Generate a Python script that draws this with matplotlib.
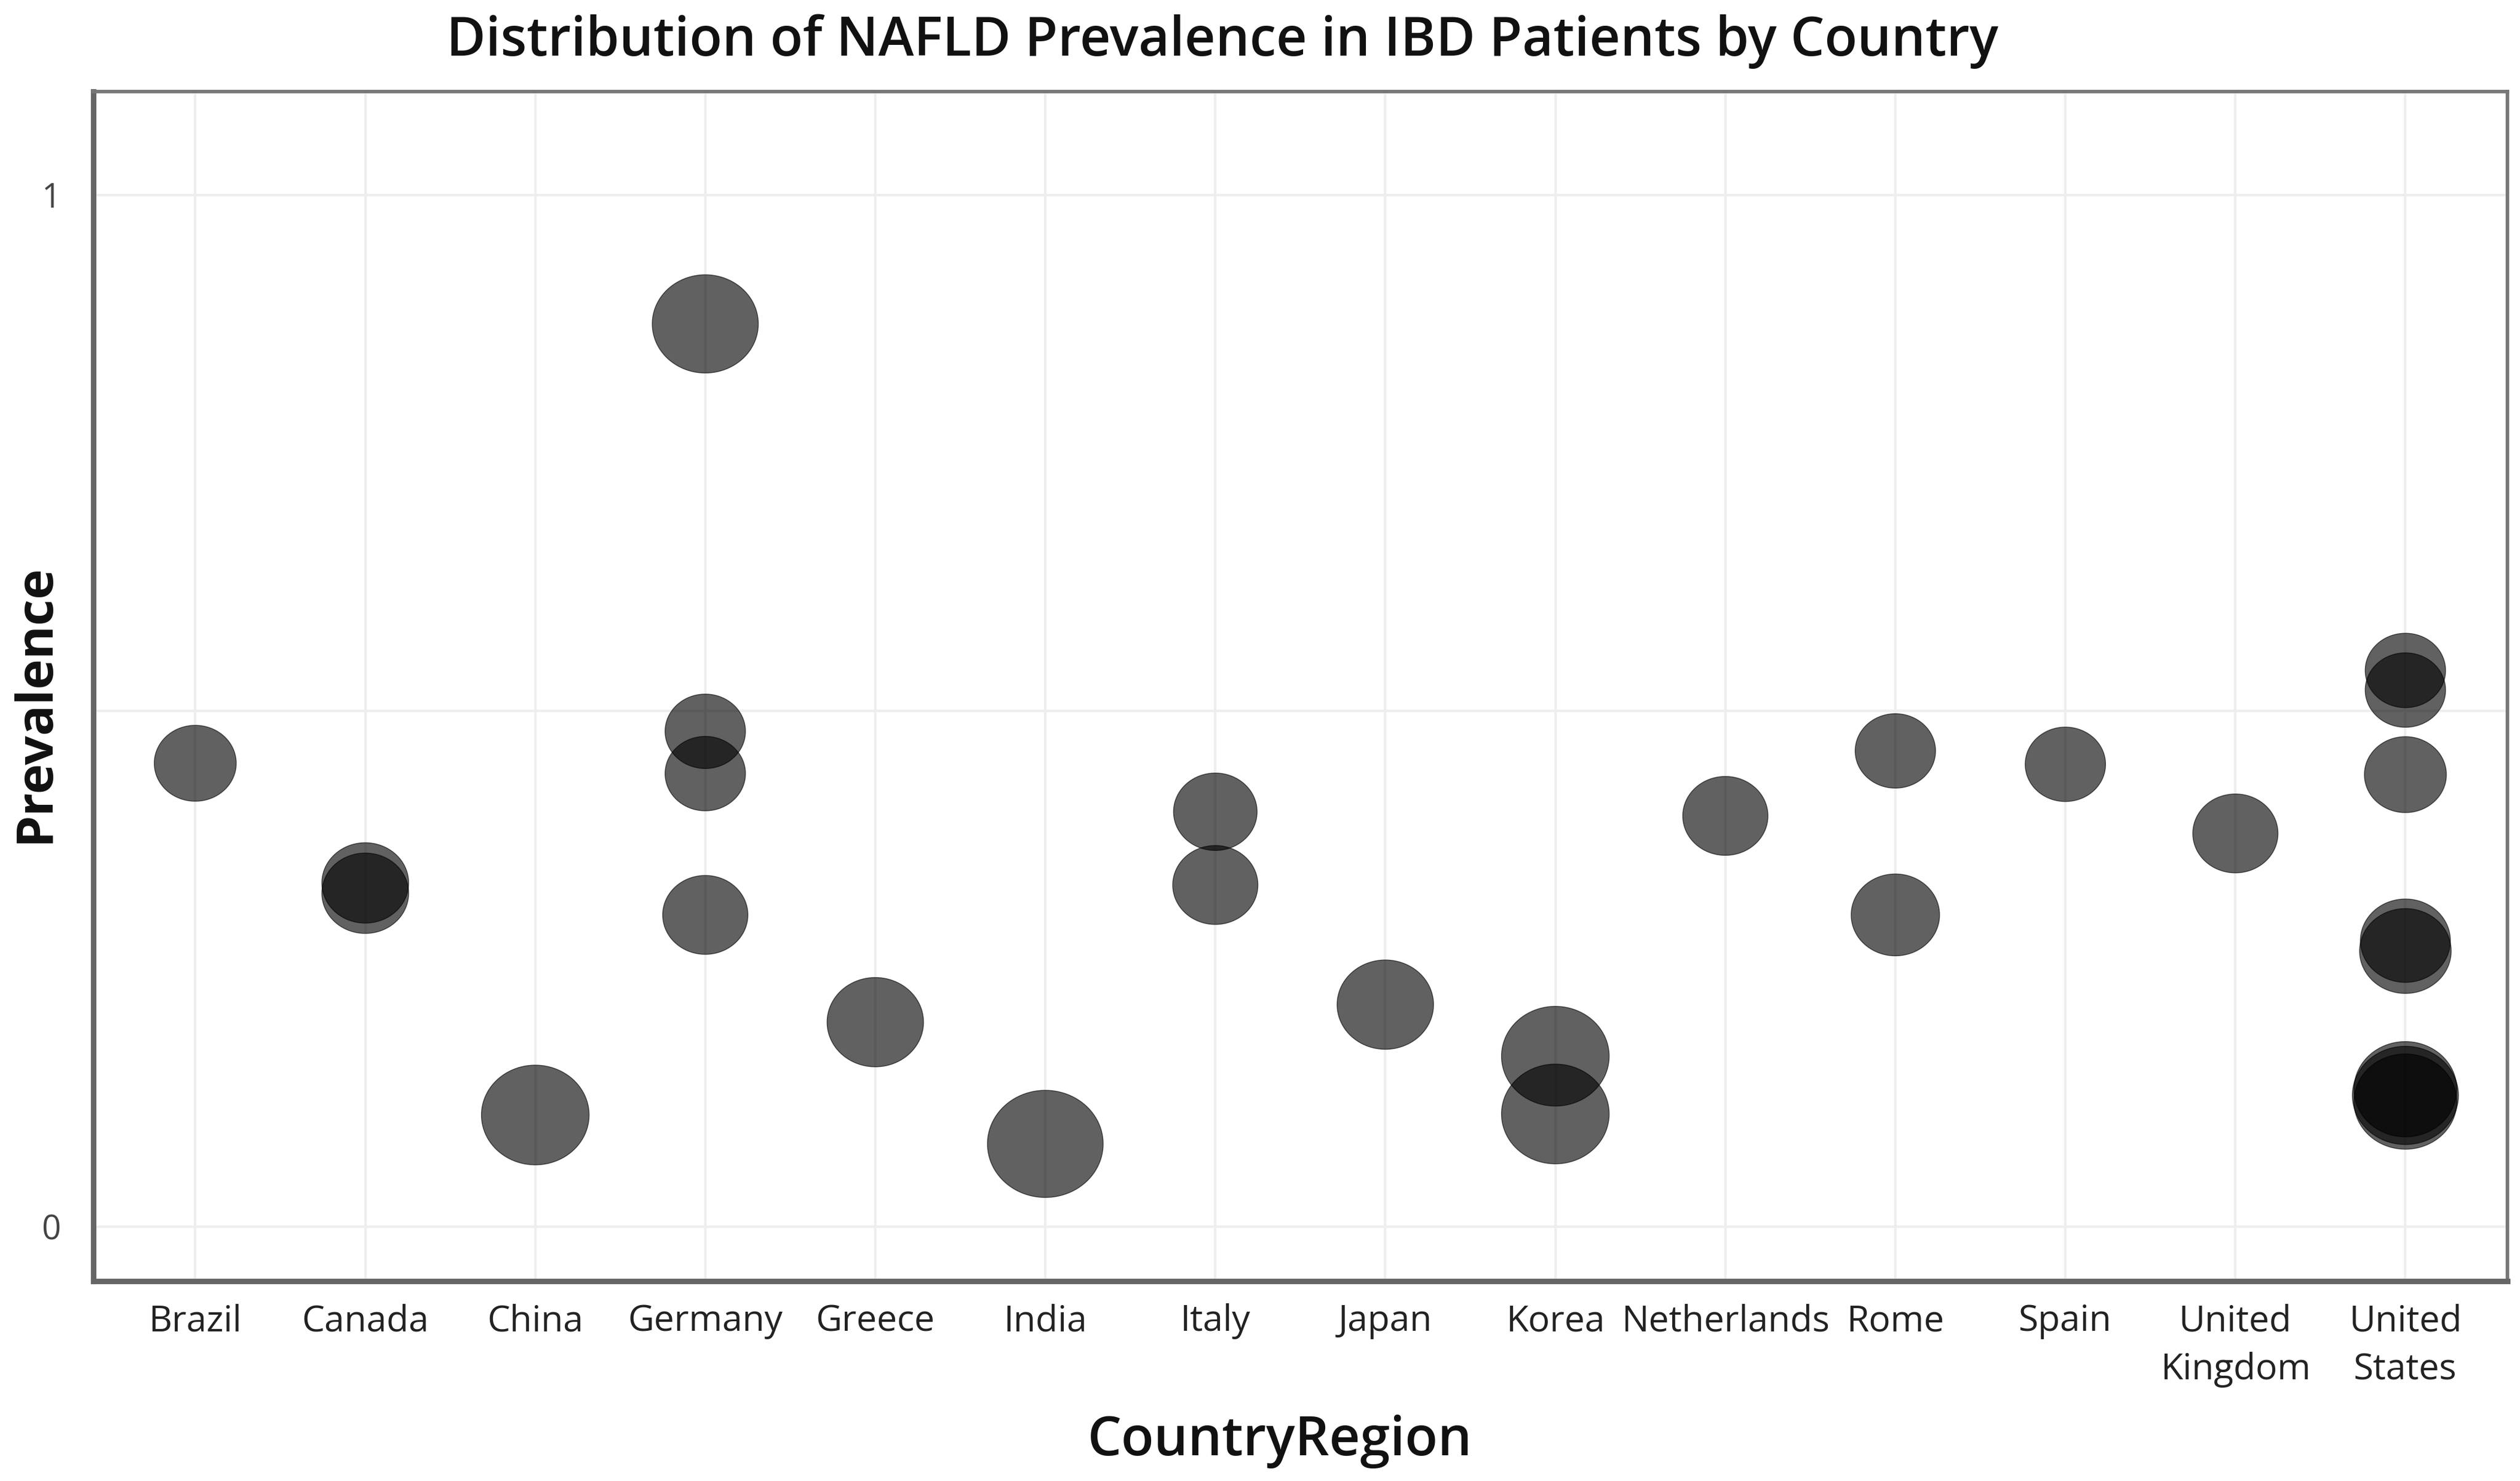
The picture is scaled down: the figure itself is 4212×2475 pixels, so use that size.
import numpy as np
import matplotlib
matplotlib.use("Agg")
import matplotlib.pyplot as plt
from matplotlib.path import Path

plt.rcParams['font.family'] = ['Open Sans', 'DejaVu Sans']

# categories on the x axis
countries = ["Brazil", "Canada", "China", "Germany", "Greece", "India", "Italy",
             "Japan", "Korea", "Netherlands", "Rome", "Spain",
             "United Kingdom", "United States"]
tick_labels = ["Brazil", "Canada", "China", "Germany", "Greece", "India", "Italy",
               "Japan", "Korea", "Netherlands", "Rome", "Spain",
               "United\nKingdom", "United\nStates"]

# one entry per study
study_country = ["Brazil", "Canada", "Canada", "China",
                 "Germany", "Germany", "Germany", "Germany",
                 "Greece", "India", "Italy", "Italy", "Japan",
                 "Korea", "Korea", "Netherlands", "Rome", "Rome", "Spain",
                 "United Kingdom",
                 "United States", "United States", "United States",
                 "United States", "United States",
                 "United States", "United States", "United States"]
prevalence = [0.449, 0.333, 0.323, 0.108,
              0.875, 0.480, 0.439, 0.302,
              0.198, 0.080, 0.402, 0.331, 0.215,
              0.165, 0.109, 0.398, 0.461, 0.302, 0.448,
              0.381,
              0.539, 0.520, 0.438,
              0.277, 0.267,
              0.133, 0.127, 0.121]
bubble = [51, 54, 54, 67,
          66, 50, 50, 53,
          60, 72, 52, 53, 60,
          67, 67, 53, 50, 55, 50,
          53,
          50, 50, 51,
          56, 57,
          64, 66, 64]

fig = plt.figure(figsize=(14.04, 8.25), dpi=300)
ax = fig.add_axes([0.037, 0.135, 0.958, 0.803])

# slightly wide ellipse marker
t = np.linspace(0, 2 * np.pi, 100)
ellipse = Path(np.column_stack([1.08 * np.cos(t), np.sin(t)]), closed=True)

xpos = [countries.index(c) for c in study_country]
sizes = [(b * 0.6447) ** 2 for b in bubble]
ax.scatter(xpos, prevalence, s=sizes, marker=ellipse, color="black",
           alpha=0.62, linewidths=0.35, zorder=3)

ax.set_xlim(-0.6, 13.6)
ax.set_ylim(-0.053, 1.10)
ax.set_xticks(range(len(countries)))
ax.set_xticklabels(tick_labels, fontsize=14.5, color="#222222", linespacing=1.45)
ax.set_yticks([0, 0.5, 1])
ax.set_yticklabels(["0", "", "1"], fontsize=13.5, color="#444444")
ax.tick_params(axis="both", length=0)
ax.tick_params(axis="x", pad=9)
ax.tick_params(axis="y", pad=13)
ax.grid(True, color="#eeeeee", linewidth=1.0, zorder=0)
ax.set_axisbelow(True)

for side in ["left", "bottom"]:
    ax.spines[side].set_color("#666666")
    ax.spines[side].set_linewidth(2.2)
for side in ["top", "right"]:
    ax.spines[side].set_color("#777777")
    ax.spines[side].set_linewidth(1.4)

fig.text(0.485, 0.972, "Distribution of NAFLD Prevalence in IBD Patients by Country",
         ha="center", va="center", fontsize=21.5, fontweight="semibold", color="#111111")
fig.text(0.014, 0.525, "Prevalence", rotation=90, ha="center", va="center",
         fontsize=20.5, fontweight="bold", color="#111111")
fig.text(0.508, 0.027, "CountryRegion", ha="center", va="center",
         fontsize=21.5, fontweight="semibold", color="#111111")

fig.savefig("out.png", dpi=300)
